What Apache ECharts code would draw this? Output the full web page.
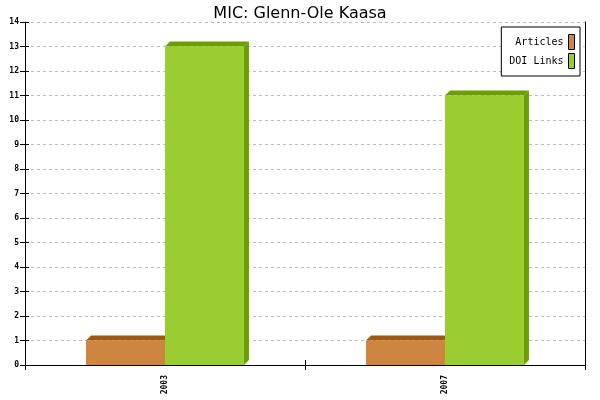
<!DOCTYPE html>
<html>
<head>
<meta charset="utf-8">
<script src="https://cdn.jsdelivr.net/npm/echarts@6/dist/echarts.min.js"></script>
<style>
  html, body { margin: 0; padding: 0; background: #fff; }
  #chart { width: 600px; height: 400px; }
</style>
</head>
<body>
<div id="chart"></div>
<script>
// data
const years = ['2003', '2007'];
const articles = [1, 1];
const doiLinks = [13, 11];
const seriesNames = ['Articles', 'DOI Links'];

const MONO = '"DejaVu Sans Mono", monospace';
const faces = [
  { front: '#CD853F', dark: '#A0570F' },
  { front: '#9ACD32', dark: '#6B9F00' }
];
const DEPTH = 5;

const chart = echarts.init(document.getElementById('chart'));

// 3d-ish bar: front rect + top face + right side face
function makeRender(idx) {
  return function (params, api) {
    const cat = api.value(0);
    const top = api.coord([cat, api.value(1)]);
    const base = api.coord([cat, 0]);
    const band = api.size([1, 0])[0];
    const bw = band * 0.282;
    const x0 = idx === 0 ? top[0] - bw : top[0];
    const yT = top[1];
    const yB = base[1];
    const c = faces[idx];
    return {
      type: 'group',
      children: [
        {
          type: 'polygon',
          shape: { points: [[x0, yT], [x0 + DEPTH, yT - DEPTH], [x0 + bw + DEPTH, yT - DEPTH], [x0 + bw, yT]] },
          style: { fill: c.dark }
        },
        {
          type: 'polygon',
          shape: { points: [[x0 + bw, yT], [x0 + bw + DEPTH, yT - DEPTH], [x0 + bw + DEPTH, yB - DEPTH], [x0 + bw, yB]] },
          style: { fill: c.dark }
        },
        {
          type: 'rect',
          shape: { x: x0, y: yT, width: bw, height: yB - yT },
          style: { fill: c.front }
        }
      ]
    };
  };
}

const yBase = { type: 'value', min: 0, max: 14, interval: 1 };

chart.setOption({
  animation: false,
  title: {
    text: 'MIC: Glenn-Ole Kaasa',
    left: 'center',
    top: 1,
    textStyle: { fontFamily: '"DejaVu Sans", sans-serif', fontSize: 16, fontWeight: 'normal', color: '#000' }
  },
  legend: {
    orient: 'vertical',
    right: 20,
    top: 27,
    align: 'right',
    icon: 'rect',
    itemWidth: 6,
    itemHeight: 15,
    itemGap: 3,
    padding: [7, 5, 7, 8],
    borderColor: '#000',
    borderWidth: 1,
    backgroundColor: '#fff',
    textStyle: { fontFamily: MONO, fontSize: 10, color: '#000' },
    itemStyle: { borderColor: '#000', borderWidth: 1 },
    data: seriesNames
  },
  grid: { left: 25, right: 15, top: 22, bottom: 35, containLabel: false },
  xAxis: [
    {
      type: 'category',
      data: years,
      axisLine: { lineStyle: { color: '#000', width: 1 } },
      axisTick: { show: true, length: 5, lineStyle: { color: '#000' } },
      axisLabel: { rotate: 90, fontFamily: MONO, fontSize: 8, fontWeight: 'bold', color: '#000', margin: 10 }
    },
    {
      type: 'category',
      data: years,
      position: 'bottom',
      axisLine: { show: false },
      axisTick: { show: true, inside: true, length: 5, lineStyle: { color: '#000' } },
      axisLabel: { show: false }
    }
  ],
  yAxis: [
    Object.assign({}, yBase, {
      position: 'left',
      axisLine: { show: true, lineStyle: { color: '#000' } },
      axisTick: { show: true, length: 5, lineStyle: { color: '#000' } },
      axisLabel: { fontFamily: MONO, fontSize: 8, fontWeight: 'bold', color: '#000', margin: 6 },
      splitLine: { show: true, lineStyle: { color: '#bbb', type: [3, 3] } }
    }),
    Object.assign({}, yBase, {
      position: 'left',
      axisLine: { show: false },
      axisTick: { show: true, inside: true, length: 4, lineStyle: { color: '#000' } },
      axisLabel: { show: false },
      splitLine: { show: false }
    }),
    Object.assign({}, yBase, {
      position: 'right',
      axisLine: { show: true, lineStyle: { color: '#000' } },
      axisTick: { show: false },
      axisLabel: { show: false },
      splitLine: { show: false }
    })
  ],
  series: [
    {
      name: seriesNames[0],
      type: 'custom',
      renderItem: makeRender(0),
      itemStyle: { color: faces[0].front },
      encode: { x: 0, y: 1 },
      data: articles.map((v, i) => [i, v])
    },
    {
      name: seriesNames[1],
      type: 'custom',
      renderItem: makeRender(1),
      itemStyle: { color: faces[1].front },
      encode: { x: 0, y: 1 },
      data: doiLinks.map((v, i) => [i, v])
    }
  ]
});
</script>
</body>
</html>
